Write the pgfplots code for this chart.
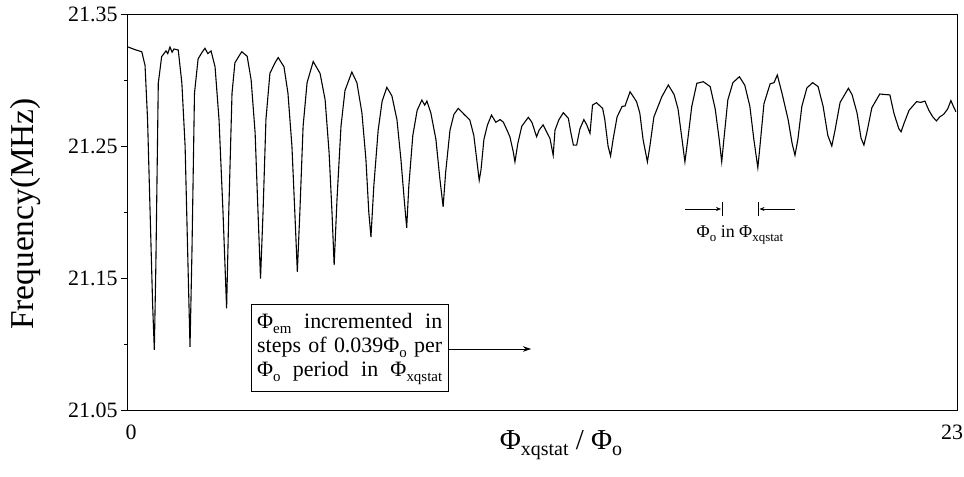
\documentclass[border=0pt]{standalone}
\usepackage{fontspec}
\setmainfont{Liberation Serif}
\usepackage{pgfplots}
\pgfplotsset{compat=1.18}
\usetikzlibrary{arrows.meta}
\newcommand\sub[2]{\raisebox{-0.2em}{\fontsize{#2}{#2}\selectfont #1}}
\pgfplotstableread{
x y
0.03 21.325
0.22 21.323
0.41 21.3214
0.50 21.311
0.57 21.27
0.64 21.20
0.71 21.13
0.757 21.0955
0.80 21.16
0.867 21.2975
0.96 21.3177
1.08 21.322
1.13 21.320
1.19 21.325
1.25 21.321
1.30 21.3235
1.42 21.3227
1.52 21.2977
1.61 21.25
1.69 21.16
1.746 21.0978
1.80 21.17
1.87 21.29
1.97 21.316
2.08 21.321
2.16 21.324
2.24 21.320
2.33 21.322
2.44 21.31
2.55 21.27
2.66 21.20
2.76 21.127
2.82 21.20
2.91 21.29
2.99 21.313
3.10 21.318
3.18 21.3214
3.33 21.318
3.44 21.30
3.55 21.26
3.63 21.20
3.70 21.1496
3.77 21.20
3.85 21.27
3.96 21.305
4.10 21.313
4.19 21.317
4.35 21.31
4.46 21.29
4.57 21.25
4.65 21.20
4.72 21.1547
4.79 21.20
4.88 21.265
4.99 21.298
5.16 21.314
5.35 21.305
5.49 21.285
5.60 21.245
5.68 21.20
5.74 21.1597
5.82 21.21
5.93 21.265
6.04 21.292
6.23 21.306
6.37 21.298
6.51 21.275
6.62 21.24
6.70 21.20
6.76 21.181
6.84 21.22
6.96 21.262
7.07 21.284
7.20 21.2944
7.34 21.288
7.48 21.27
7.59 21.24
7.68 21.21
7.75 21.188
7.81 21.22
7.92 21.258
8.04 21.277
8.17 21.2848
8.25 21.281
8.31 21.284
8.42 21.275
8.56 21.255
8.67 21.225
8.76 21.204
8.83 21.23
8.95 21.262
9.06 21.274
9.18 21.2785
9.34 21.274
9.50 21.2697
9.61 21.258
9.69 21.24
9.76 21.224
9.81 21.232
9.89 21.255
9.99 21.266
10.10 21.2734
10.22 21.268
10.34 21.270
10.43 21.268
10.53 21.262
10.61 21.257
10.70 21.246
10.75 21.238
10.83 21.252
10.94 21.265
11.12 21.2717
11.22 21.268
11.35 21.257
11.42 21.262
11.53 21.266
11.64 21.26
11.72 21.2558
11.81 21.243
11.86 21.262
11.97 21.27
12.09 21.2752
12.23 21.271
12.30 21.26
12.37 21.2507
12.46 21.2507
12.55 21.263
12.66 21.270
12.74 21.266
12.83 21.2596
12.90 21.281
13.01 21.2828
13.18 21.2785
13.24 21.27
13.33 21.25
13.40 21.2424
13.47 21.255
13.58 21.272
13.72 21.28
13.80 21.2803
13.94 21.2911
14.12 21.2836
14.21 21.275
14.30 21.255
14.42 21.238
14.49 21.25
14.60 21.272
14.82 21.2873
15.00 21.2962
15.16 21.289
15.27 21.278
15.38 21.255
15.46 21.238
15.54 21.255
15.65 21.28
15.79 21.2975
15.97 21.2987
16.16 21.295
16.30 21.278
16.41 21.255
16.48 21.238
16.54 21.255
16.65 21.285
16.79 21.298
16.97 21.3025
17.12 21.296
17.26 21.28
17.37 21.255
17.48 21.2336
17.54 21.25
17.65 21.282
17.82 21.297
17.93 21.298
18.02 21.3038
18.15 21.29
18.32 21.27
18.43 21.252
18.51 21.243
18.59 21.255
18.70 21.28
18.84 21.294
19.00 21.298
19.15 21.295
19.29 21.28
19.42 21.258
19.53 21.25
19.62 21.262
19.76 21.283
19.99 21.2937
20.09 21.289
20.23 21.275
20.34 21.256
20.42 21.2507
20.50 21.26
20.64 21.279
20.86 21.2894
21.00 21.289
21.14 21.2887
21.25 21.275
21.33 21.268
21.39 21.263
21.45 21.2608
21.53 21.267
21.67 21.277
21.88 21.2836
22.00 21.283
22.11 21.284
22.22 21.277
22.33 21.272
22.43 21.269
22.52 21.272
22.63 21.274
22.74 21.278
22.83 21.2844
22.90 21.28
22.97 21.276
}\freq
\begin{document}
\begin{tikzpicture}[x=1bp,y=1bp]
\useasboundingbox (0,0) rectangle (964,477);
\begin{axis}[
  at={(127bp,67bp)}, anchor=south west, scale only axis,
  width=830bp, height=396bp,
  xmin=0, xmax=23, ymin=21.05, ymax=21.35,
  xtick={0,23}, xticklabels={0\hspace*{-8bp},\hspace*{-10bp}23},
  ytick={21.05,21.15,21.25,21.35},
  yticklabels={21.05,21.15,21.25,21.35},
  minor ytick={21.10,21.20,21.30},
  minor xtick={11.5},
  tick align=outside,
  major tick length=6bp, minor tick length=3bp,
  xtick style={draw=none},
  xtick pos=bottom, ytick pos=left,
  axis line style={line width=0.8bp},
  tick style={line width=0.8bp, black},
  ticklabel style={font=\fontsize{22}{22}\selectfont},
  xticklabel style={yshift=-5bp},
  clip=false,
]
\addplot[black, line width=1.1bp] table[x=x,y=y] {\freq};
\end{axis}
% axis labels
\node[rotate=90, font=\fontsize{33.5}{33.5}\selectfont] at (26,263) {Frequency(MHz)};
\node[font=\fontsize{29}{29}\selectfont] at (561,32) {Φ\sub{xqstat}{20} / Φ\sub{o}{20}};
% box annotation
\draw[line width=0.7bp] (251,85.5) rectangle (448.5,173);
\node[anchor=base west, inner sep=0pt, font=\fontsize{22}{24}\selectfont] at (257,148) {%
  \parbox[t]{185bp}{\baselineskip=24bp
  \hbox to\hsize{Φ\sub{em}{15} incremented in}
  \hbox to\hsize{steps of 0.039Φ\sub{o}{15} per}
  \hbox to\hsize{Φ\sub{o}{15} period in Φ\sub{xqstat}{15}}}};
\draw[line width=0.6bp, -{Stealth[length=8bp,width=5.5bp]}] (448.5,128) -- (531,128);
% period annotation
\draw[line width=0.6bp, -{Stealth[length=5bp,width=4bp]}] (685,268) -- (721,268);
\draw[line width=0.6bp] (722.5,261) -- (722.5,275);
\draw[line width=0.6bp] (758.3,261) -- (758.3,275);
\draw[line width=0.6bp, -{Stealth[length=5bp,width=4bp]}] (795,268) -- (759.5,268);
\node[font=\fontsize{18}{18}\selectfont] at (740,242) {Φ\sub{o}{13} in Φ\sub{xqstat}{13}};
\end{tikzpicture}
\end{document}
